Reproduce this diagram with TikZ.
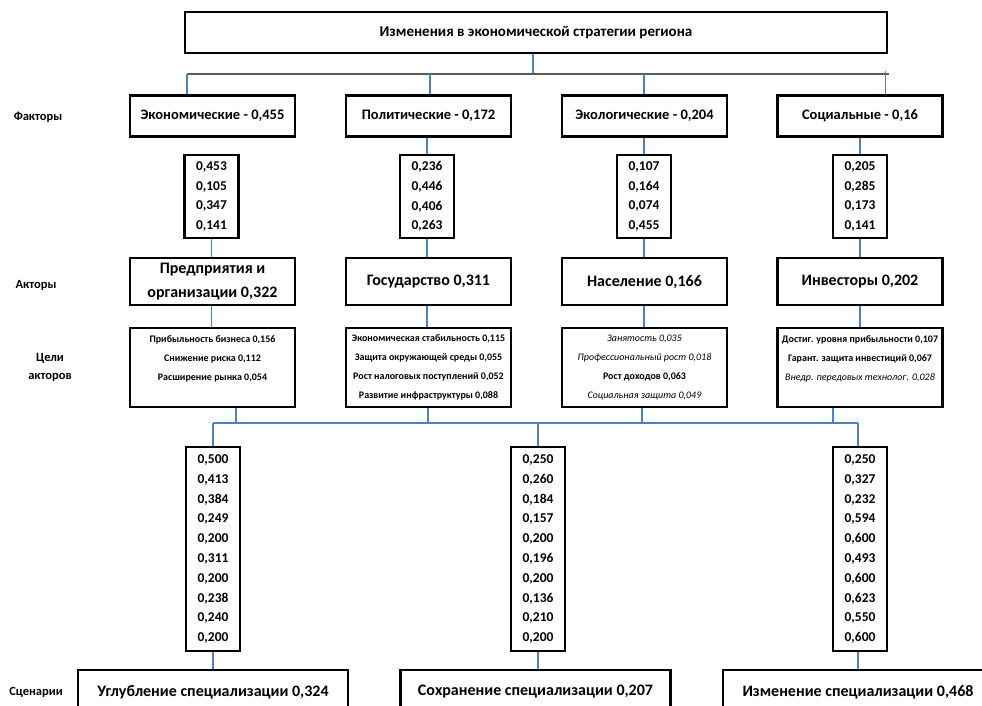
\documentclass[tikz,border=0pt]{standalone}
\usepackage{fontspec}
\setmainfont{Carlito}
\definecolor{lineblue}{HTML}{4F81BD}
\definecolor{busgray}{HTML}{5A5A5A}
\begin{document}
\begin{tikzpicture}[x=1pt,y=-1pt,
  bx/.style={draw=black, line width=2.4pt, inner sep=0pt, align=center, font=\bfseries},
  fbox/.style={bx, minimum width=165pt, minimum height=41pt, font=\bfseries\fontsize{14.5}{17}\selectfont},
  numbox/.style={bx, minimum width=54pt, font=\bfseries\fontsize{13.5}{19.8}\selectfont},
  actbox/.style={bx, minimum width=165pt, minimum height=47pt, font=\bfseries\fontsize{16}{24}\selectfont},
  goalbox/.style={bx, minimum width=165pt, minimum height=79pt, font=\bfseries\fontsize{10}{19}\selectfont},
  scenbox/.style={bx, minimum width=270pt, minimum height=44pt, font=\bfseries\fontsize{16}{19}\selectfont},
  lbl/.style={inner sep=0pt, align=center, font=\bfseries\fontsize{12.5}{18}\selectfont},
  ln/.style={draw=lineblue, line width=1.1pt},
  busln/.style={draw=busgray, line width=1.1pt},
  itl/.style={}]
\useasboundingbox (0,0) rectangle (982,706);
\clip (0,0) rectangle (982,706);
\fill[white] (0,0) rectangle (982,706);

% title
\node[bx, minimum width=702pt, minimum height=41pt, font=\bfseries\fontsize{15}{18}\selectfont] (title) at (536,32.5) {Изменения в экономической стратегии региона};

% factors
\node[fbox] (f1) at (212.5,116) {Экономические - 0,455};
\node[fbox] (f2) at (428.5,116) {Политические - 0,172};
\node[fbox] (f3) at (644.5,116) {Экологические - 0,204};
\node[fbox] (f4) at (860,116) {Социальные - 0,16};

% factor numbers
\node[numbox, minimum height=83pt] (n1) at (211.5,196.5) {0,453\\0,105\\0,347\\0,141};
\node[numbox, minimum height=83pt] (n2) at (427,196.5) {0,236\\0,446\\0,406\\0,263};
\node[numbox, minimum height=83pt] (n3) at (644,196.5) {0,107\\0,164\\0,074\\0,455};
\node[numbox, minimum height=83pt] (n4) at (860,196.5) {0,205\\0,285\\0,173\\0,141};

% actors
\node[actbox] (a1) at (212.5,281.75) {Предприятия и\\организации 0,322};
\node[actbox] (a2) at (428.5,281.75) {Государство 0,311};
\node[actbox] (a3) at (644.5,281.75) {Население 0,166};
\node[actbox] (a4) at (860,281.75) {Инвесторы 0,202};

% goals
\node[goalbox] (g1) at (212.5,367.5) {Прибыльность бизнеса 0,156\\Снижение риска 0,112\\Расширение рынка 0,054\\ \mbox{}};
\node[goalbox] (g2) at (428.5,367.5) {Экономическая стабильность 0,115\\Защита окружающей среды 0,055\\Рост налоговых поступлений 0,052\\Развитие инфраструктуры 0,088};
\node[goalbox] (g3) at (644.5,367.5) {{\mdseries\itshape Занятость 0,035}\\{\mdseries\itshape Профессиональный рост 0,018}\\Рост доходов 0,063\\{\mdseries\itshape Социальная защита 0,049}};
\node[goalbox] (g4) at (860,367.5) {Достиг. уровня прибыльности 0,107\\Гарант. защита инвестиций 0,067\\{\mdseries\itshape Внедр. передовых технолог. 0,028}\\ \mbox{}};

% scenario numbers
\node[numbox, minimum height=204pt] (m1) at (213,549) {0,500\\0,413\\0,384\\0,249\\0,200\\0,311\\0,200\\0,238\\0,240\\0,200};
\node[numbox, minimum height=204pt] (m2) at (538,549) {0,250\\0,260\\0,184\\0,157\\0,200\\0,196\\0,200\\0,136\\0,210\\0,200};
\node[numbox, minimum height=204pt] (m3) at (860,549) {0,250\\0,327\\0,232\\0,594\\0,600\\0,493\\0,600\\0,623\\0,550\\0,600};

% scenarios
\node[scenbox] (s1) at (213,692) {Углубление специализации 0,324};
\node[scenbox] (s2) at (535.5,692) {Сохранение специализации 0,207};
\node[scenbox] (s3) at (858,692) {Изменение специализации 0,468};

% left labels
\node[lbl] (lf) at (38,117) {Факторы};
\node[lbl] (la) at (36,285) {Акторы};
\node[lbl] (lc) at (50,367) {Цели\\акторов};
\node[lbl] (ls) at (36,692) {Сценарии};

% top bus
\coordinate (tb) at (533,74);
\coordinate (bl) at (187,74);
\coordinate (br) at (889,74);
\coordinate (d2) at (430,74);
\coordinate (d3) at (644,74);
\coordinate (d4) at (885.7,74);
\draw[ln] (title.south -| tb) -- (tb);
\draw[busln] (bl) -- (br);
\draw[ln] (bl) -- (bl |- f1.north);
\draw[ln] (d2) -- (d2 |- f2.north);
\draw[ln] (d3) -- (d3 |- f3.north);
\draw[ln] ([yshift=3pt]d4) -- (d4 |- f4.north);

% factors -> numbers
\draw[ln] (n2.north) -- (n2.north |- f2.south);
\draw[ln] (n3.north) -- (n3.north |- f3.south);
\draw[ln] (n4.north) -- (n4.north |- f4.south);

% numbers -> actors
\draw[ln] (n1.south) -- (n1.south |- a1.north);
\draw[ln] (n2.south) -- (n2.south |- a2.north);
\draw[ln] (n3.south) -- (n3.south |- a3.north);
\draw[ln] (n4.south) -- (n4.south |- a4.north);

% actors -> goals
\draw[ln] (a1.south -| n1) -- (g1.north -| n1);
\draw[ln] (a2.south -| n2) -- (g2.north -| n2);
\draw[ln] (a3.south -| n3) -- (g3.north -| n3);
\draw[ln] (a4.south -| n4) -- (g4.north -| n4);

% goals -> lower bus
\coordinate (u1) at (236,423);
\coordinate (u2) at (428,423);
\coordinate (u3) at (642,423);
\coordinate (u4) at (833,423);
\coordinate (lb) at (213,423);
\coordinate (rb) at (858,423);
\coordinate (mb) at (538,423);
\draw[ln] (g1.south -| u1) -- (u1);
\draw[ln] (g2.south -| u2) -- (u2);
\draw[ln] (g3.south -| u3) -- (u3);
\draw[ln] (g4.south -| u4) -- (u4);
\draw[ln] (lb) -- (rb);
\draw[ln] (lb) -- (lb |- m1.north);
\draw[ln] (mb) -- (mb |- m2.north);
\draw[ln] (rb) -- (rb |- m3.north);

% numbers -> scenarios
\draw[ln] (m1.south) -- (m1.south |- s1.north);
\draw[ln] (m2.south) -- (m2.south |- s2.north);
\draw[ln] (m3.south -| rb) -- (s3.north);
\end{tikzpicture}
\end{document}
